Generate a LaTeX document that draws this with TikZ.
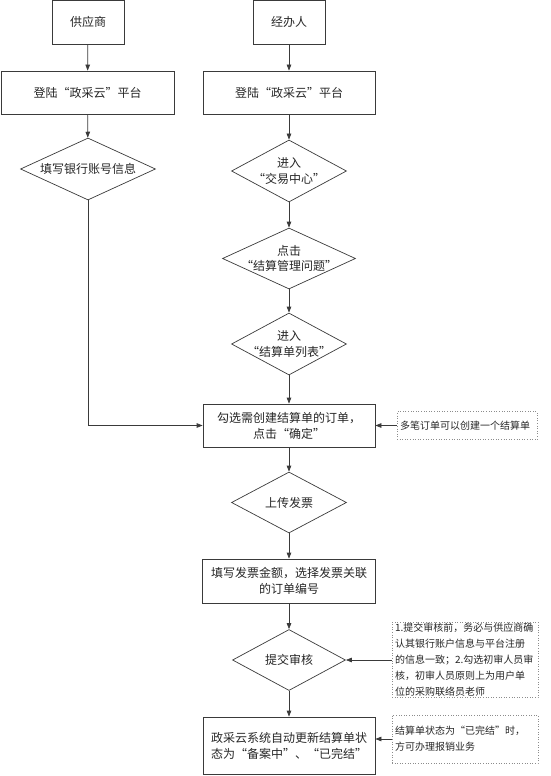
\documentclass[tikz,border=0pt]{standalone}
\usepackage{fontspec}
\newfontfamily\cjk{Noto Sans CJK SC}
\usepackage{xcolor}
\usepackage{tikz}
\usetikzlibrary{shapes.geometric, arrows.meta}
\definecolor{xian}{HTML}{3A3A3A}
\definecolor{xu}{HTML}{8C8C8C}

\begin{document}
\begin{tikzpicture}[x=1pt, y=-1pt,
    kuang/.style={draw=xian, line width=0.7pt, rectangle, inner sep=0pt, align=center, text=black!85, font=\cjk\fontsize{12}{16}\selectfont},
    pd/.style={draw=xian, line width=0.7pt, diamond, aspect=2.2, inner sep=-6pt, align=center, text=black!85, font=\cjk\fontsize{12}{15.5}\selectfont},
    bz/.style={draw=xu, dotted, line width=0.6pt, rectangle, inner xsep=3pt, inner ysep=1pt, align=left, text=black!85, font=\cjk\fontsize{10}{16}\selectfont},
    jt/.style={draw=xian, line width=0.7pt, -{Triangle[length=6pt,width=4.5pt]}}]

    \useasboundingbox (0,0) rectangle (550,776);

    % 两条泳道的起点
    \node[kuang, minimum width=72pt, minimum height=44pt] (gys) at (88,22) {供应商};
    \node[kuang, minimum width=72pt, minimum height=44pt] (jbr) at (289,22) {经办人};

    \node[kuang, minimum width=173pt, minimum height=43pt] (dl1) at (87.5,92.5) {登陆“政采云”平台};
    \node[kuang, minimum width=172pt, minimum height=43pt] (dl2) at (289,92.5) {登陆“政采云”平台};

    \node[pd, minimum width=135pt, minimum height=62pt] (yh) at (88,169) {填写银行账号信息};
    \node[pd, minimum width=115pt, minimum height=62pt] (jy) at (289,171) {进入\\“交易中心”};
    \node[pd, minimum width=133pt, minimum height=61pt] (jsgl) at (289,258.5) {点击\\“结算管理问题”};
    \node[pd, minimum width=115pt, minimum height=62pt] (jsd) at (289,344) {进入\\“结算单列表”};

    \node[kuang, minimum width=172pt, minimum height=43pt] (gx) at (289,425.5) {勾选需创建结算单的订单，\\点击“确定”};
    \node[bz, text width=134pt, minimum height=28pt] (bz1) at (467,425.5) {多笔订单可以创建一个结算单};

    \node[pd, minimum width=115pt, minimum height=61pt] (sc) at (289,502.5) {上传发票};
    \node[kuang, minimum width=173pt, minimum height=44pt] (fp) at (289,581) {填写发票金额，选择发票关联\\的订单编号};

    \node[pd, minimum width=113pt, minimum height=61pt] (tj) at (289,660) {提交审核};
    \node[bz, text width=140pt, minimum height=73pt] (bz2) at (465,660) {1.提交审核前，务必与供应商确\\认其银行账户信息与平台注册\\的信息一致；2.勾选初审人员审\\核，初审人员原则上为用户单\\位的采购联络员老师};

    \node[kuang, minimum width=172pt, minimum height=57pt] (zt) at (289,745.5) {政采云系统自动更新结算单状\\态为“备案中”、“已完结”};
    \node[bz, text width=140pt, minimum height=48pt] (bz3) at (465,739) {结算单状态为“已完结”时，\\方可办理报销业务};

    % 连线
    \draw[jt] (gys) -- (dl1);
    \draw[jt] (dl1) -- (yh);
    \draw[jt] (yh.south) |- (gx.west);
    \foreach \a/\b in {jbr/dl2, dl2/jy, jy/jsgl, jsgl/jsd, jsd/gx, gx/sc, sc/fp, fp/tj, tj/zt}
        \draw[jt] (\a) -- (\b);
    \draw[jt] (bz1.west) -- (gx.east);
    \draw[jt] (bz2.west) -- (tj.east);
    \draw[jt] (bz3.west) -- (bz3.west -| zt.east);
\end{tikzpicture}
\end{document}
